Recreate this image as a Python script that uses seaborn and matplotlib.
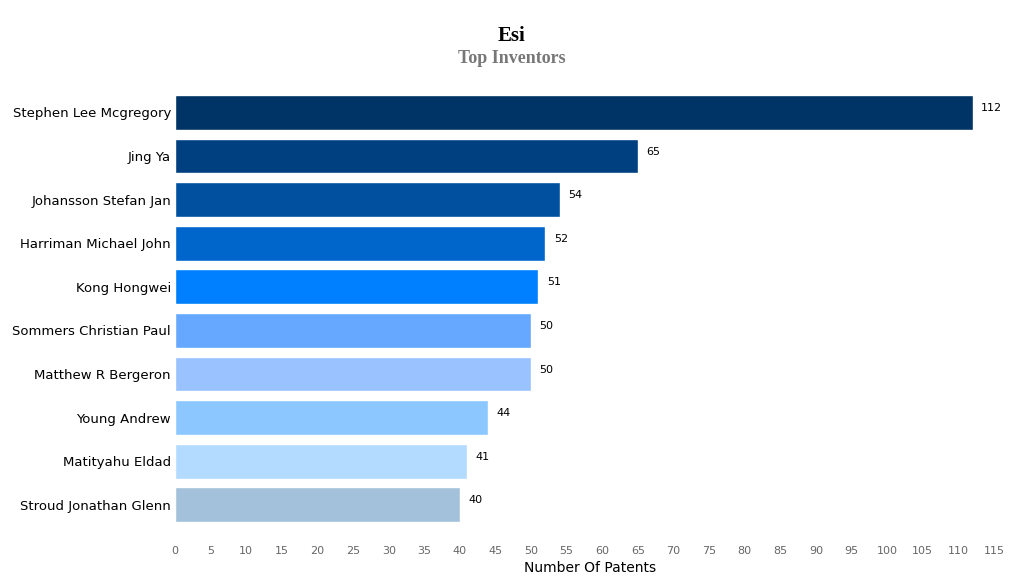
import numpy as np
import pandas as pd
import matplotlib.pyplot as plt
import seaborn as sns

sns.set_style('white')
plt.rcParams['font.family'] = ['DejaVu Sans']

# data
inventors = ['Stephen Lee Mcgregory', 'Jing Ya', 'Johansson Stefan Jan', 'Harriman Michael John',
             'Kong Hongwei', 'Sommers Christian Paul', 'Matthew R Bergeron', 'Young Andrew',
             'Matityahu Eldad', 'Stroud Jonathan Glenn']
patents = [112, 65, 54, 52, 51, 50, 50, 44, 41, 40]
bar_colors = ['#003366', '#004080', '#0050A0', '#0066CC', '#007FFF',
              '#66A8FF', '#99C2FF', '#8CC8FF', '#B3DAFF', '#A3C1DA']

df = pd.DataFrame({'Inventor': inventors, 'Patents': patents})

fig = plt.figure(figsize=(10.24, 5.85), dpi=100)
ax = fig.add_axes([0.171, 0.10, 0.81, 0.745])

sns.barplot(data=df, y='Inventor', x='Patents', hue='Inventor', palette=bar_colors,
            legend=False, width=0.8, saturation=1, ax=ax)

for i, v in enumerate(patents):
    ax.text(v + 1.2, i - 0.1, str(v), fontsize=8, va='center', ha='left', color='black')

ax.set_xlim(0, 116.5)
ax.set_xticks(np.arange(0, 116, 5))
ax.tick_params(axis='x', labelsize=8, labelcolor='#666666', length=0, pad=14)
ax.tick_params(axis='y', labelsize=9.5, labelcolor='black', length=0, pad=3)
ax.set_ylabel('')
ax.set_xlabel('Number Of Patents', fontsize=10, color='black', labelpad=4)
sns.despine(left=True, bottom=True)

fig.text(0.5, 0.93, 'Esi', ha='center', fontsize=15, fontweight='bold', color='black',
         family='Liberation Serif')
fig.text(0.5, 0.893, 'Top Inventors', ha='center', fontsize=13, fontweight='bold',
         color='#777777', family='Liberation Serif')

fig.savefig('out.png', dpi=100)
